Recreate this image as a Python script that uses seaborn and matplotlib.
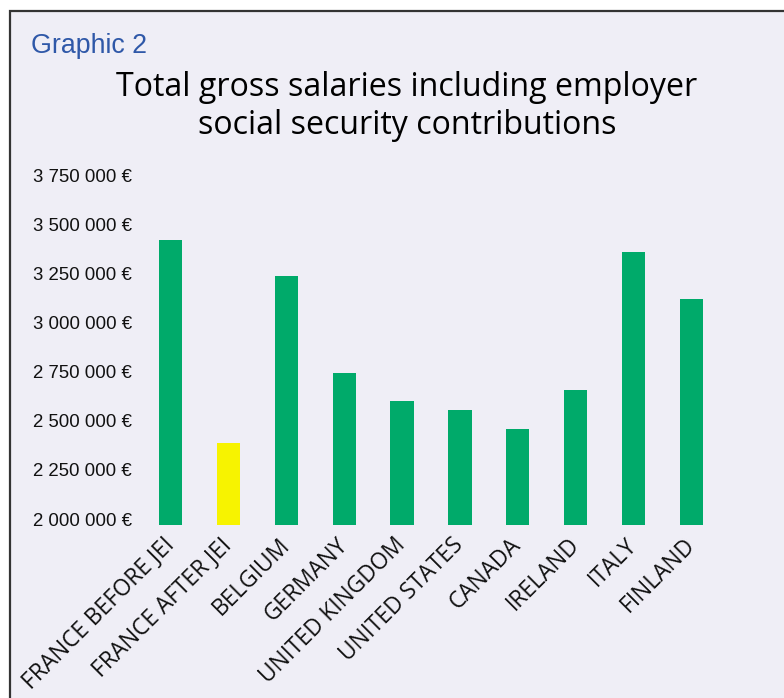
import matplotlib
matplotlib.use("Agg")
import matplotlib.pyplot as plt
from matplotlib.patches import Rectangle
import seaborn as sns
import pandas as pd

countries = ["FRANCE BEFORE JEI", "FRANCE AFTER JEI", "BELGIUM", "GERMANY",
             "UNITED KINGDOM", "UNITED STATES", "CANADA", "IRELAND", "ITALY", "FINLAND"]
salaries = [3420000, 2385000, 3235000, 2745000, 2602000, 2556000, 2459000, 2658000, 3357000, 3122000]
bar_colors = ["#00AA6A", "#F7F300", "#00AA6A", "#00AA6A", "#00AA6A",
              "#00AA6A", "#00AA6A", "#00AA6A", "#00AA6A", "#00AA6A"]
y_ticks = [2000000, 2250000, 2500000, 2750000, 3000000, 3250000, 3500000, 3750000]
y_tick_labels = ["2 000 000 €", "2 250 000 €", "2 500 000 €", "2 750 000 €",
                 "3 000 000 €", "3 250 000 €", "3 500 000 €", "3 750 000 €"]
subtitle = "Graphic 2"
title = "Total gross salaries including employer\nsocial security contributions"

BG = "#EFEEF6"
sns.set_theme(style="white")
plt.rcParams["font.family"] = ["Open Sans", "DejaVu Sans"]

W, H = 784, 698
fig = plt.figure(figsize=(W / 100, H / 100), dpi=100, facecolor="white")

# panel background with border (extends beyond right/bottom edges)
fig.patches.append(Rectangle((10 / W, -0.1), 1.2, 1 - 11 / H + 0.1,
                             transform=fig.transFigure, facecolor=BG,
                             edgecolor="#333333", linewidth=1.6, zorder=-10))

ax = fig.add_axes([141.56 / W, 1 - 525 / H, (720.44 - 141.56) / W, (525 - 165.2) / H])
ax.set_facecolor(BG)
ax.patch.set_alpha(0)

df = pd.DataFrame({"country": countries, "salary": salaries})
sns.barplot(data=df, x="country", y="salary", hue="country", palette=bar_colors,
            width=0.4, ax=ax, legend=False, saturation=1, linewidth=0)

ax.set_xlim(-0.5, 9.5)
ax.set_ylim(1970000, 3800000)
ax.set_yticks(y_ticks)
ax.set_yticklabels(y_tick_labels, family=["Liberation Sans"], fontsize=13.4, color="#111111")
ax.tick_params(axis="y", length=0, pad=7)
ax.tick_params(axis="x", length=0, pad=12)
ax.set_xticks(range(len(countries)))
ax.set_xticklabels(countries, rotation=45, ha="right", va="center",
                   rotation_mode="anchor", fontsize=16.3, color="#111111")
ax.set_xlabel("")
ax.set_ylabel("")
for s in ax.spines.values():
    s.set_visible(False)
ax.grid(False)

fig.text(31 / W, 1 - 46 / H, subtitle, family=["Liberation Sans"], fontsize=19.3,
         color="#2F58A8", ha="left", va="center")
fig.text(407 / W, 1 - 107 / H, title, fontsize=23.1, color="#000000",
         ha="center", va="center", linespacing=1.2, fontweight="medium")

fig.savefig("out.png", dpi=100, facecolor="white")
